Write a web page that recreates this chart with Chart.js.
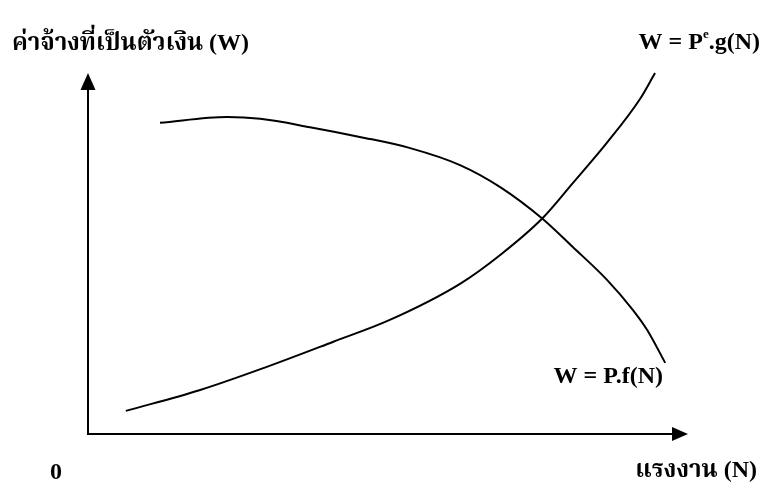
<!DOCTYPE html>
<html>
<head>
<meta charset="utf-8">
<script src="https://cdn.jsdelivr.net/npm/chart.js@4"></script>
<style>
html,body{margin:0;padding:0;background:#fff;}
#wrap{width:763px;height:482px;position:relative;}
</style>
</head>
<body>
<div id="wrap"><canvas id="c" width="763" height="482"></canvas></div>
<script>
// Curve W = P.f(N)  (x = N, y = W, in chart units 0-100)
const fN = [12.0, 23.2, 28.7, 37.0, 45.3, 53.7, 62.0, 68.7, 75.7, 80.8, 86.5, 90.8, 93.2, 96.2];
const fW = [86.2, 87.8, 87.3, 85.0, 82.3, 79.2, 74.5, 68.4, 59.7, 51.8, 42.7, 34.4, 28.8, 19.7];
// Curve W = Pe.g(N)
const gN = [6.3, 18.7, 29.8, 40.8, 50.3, 62.0, 68.7, 75.7, 80.8, 86.5, 92.0, 94.5];
const gW = [6.4, 12.2, 18.6, 25.5, 31.6, 41.6, 49.6, 59.7, 69.5, 80.7, 92.8, 100];

const yTitle = 'ค่าจ้างที่เป็นตัวเงิน (W)';
const xTitle = 'แรงงาน (N)';
const originLabel = '0';
const fLabel = 'W = P.f(N)';
const gLabelParts = ['W = P', 'e', '.g(N)'];

const toPts = (xs, ys) => xs.map((x, i) => ({x: x, y: ys[i]}));

const FONT = '"Liberation Serif", "Times New Roman", "Noto Serif Thai", "Noto Sans Thai", serif';

const decor = {
  id: 'decor',
  afterDraw(chart) {
    const ctx = chart.ctx;
    const xs = chart.scales.x, ys = chart.scales.y;
    const x0 = xs.getPixelForValue(0), y0 = ys.getPixelForValue(0);
    const xMax = xs.getPixelForValue(100), yMax = ys.getPixelForValue(100);
    ctx.save();
    ctx.strokeStyle = '#000';
    ctx.fillStyle = '#000';
    ctx.lineWidth = 2;
    // y axis
    ctx.beginPath();
    ctx.moveTo(x0, y0 + 1);
    ctx.lineTo(x0, yMax + 14);
    ctx.stroke();
    ctx.beginPath();
    ctx.moveTo(x0, yMax);
    ctx.lineTo(x0 - 7.5, yMax + 17);
    ctx.lineTo(x0 + 7.5, yMax + 17);
    ctx.closePath();
    ctx.fill();
    // x axis
    ctx.beginPath();
    ctx.moveTo(x0 - 1, y0);
    ctx.lineTo(xMax - 14, y0);
    ctx.stroke();
    ctx.beginPath();
    ctx.moveTo(xMax, y0);
    ctx.lineTo(xMax - 16, y0 - 7);
    ctx.lineTo(xMax - 16, y0 + 7);
    ctx.closePath();
    ctx.fill();

    // texts
    ctx.textBaseline = 'alphabetic';
    ctx.font = 'bold 24px ' + FONT;
    ctx.textAlign = 'left';
    ctx.fillText(yTitle, 12, 50);
    ctx.textAlign = 'right';
    ctx.fillText(xTitle, 757, 477);
    ctx.fillText(fLabel, 663, 383);
    ctx.textAlign = 'left';
    ctx.fillText(originLabel, 50, 479);
    // g label with superscript
    const w1 = ctx.measureText(gLabelParts[0]).width;
    ctx.font = 'bold 13px ' + FONT;
    const w2 = ctx.measureText(gLabelParts[1]).width;
    ctx.font = 'bold 24px ' + FONT;
    const w3 = ctx.measureText(gLabelParts[2]).width;
    let gx = 760 - (w1 + w2 + w3);
    ctx.fillText(gLabelParts[0], gx, 49);
    gx += w1;
    ctx.font = 'bold 13px ' + FONT;
    ctx.fillText(gLabelParts[1], gx, 38);
    gx += w2;
    ctx.font = 'bold 24px ' + FONT;
    ctx.fillText(gLabelParts[2], gx, 49);
    ctx.restore();
  }
};

new Chart(document.getElementById('c'), {
  type: 'scatter',
  data: {
    datasets: [
      {label: 'W = P.f(N)', data: toPts(fN, fW), showLine: true, borderColor: '#000', borderWidth: 2,
       pointRadius: 0, cubicInterpolationMode: 'monotone', fill: false, clip: false},
      {label: 'W = Pe.g(N)', data: toPts(gN, gW), showLine: true, borderColor: '#000', borderWidth: 2,
       pointRadius: 0, cubicInterpolationMode: 'monotone', fill: false, clip: false}
    ]
  },
  options: {
    responsive: false,
    animation: false,
    events: [],
    layout: {padding: {left: 88, right: 75, top: 73, bottom: 48}},
    plugins: {legend: {display: false}, tooltip: {enabled: false}, title: {display: false}},
    scales: {
      x: {type: 'linear', min: 0, max: 100, display: false},
      y: {type: 'linear', min: 0, max: 100, display: false}
    }
  },
  plugins: [decor]
});
</script>
</body>
</html>
